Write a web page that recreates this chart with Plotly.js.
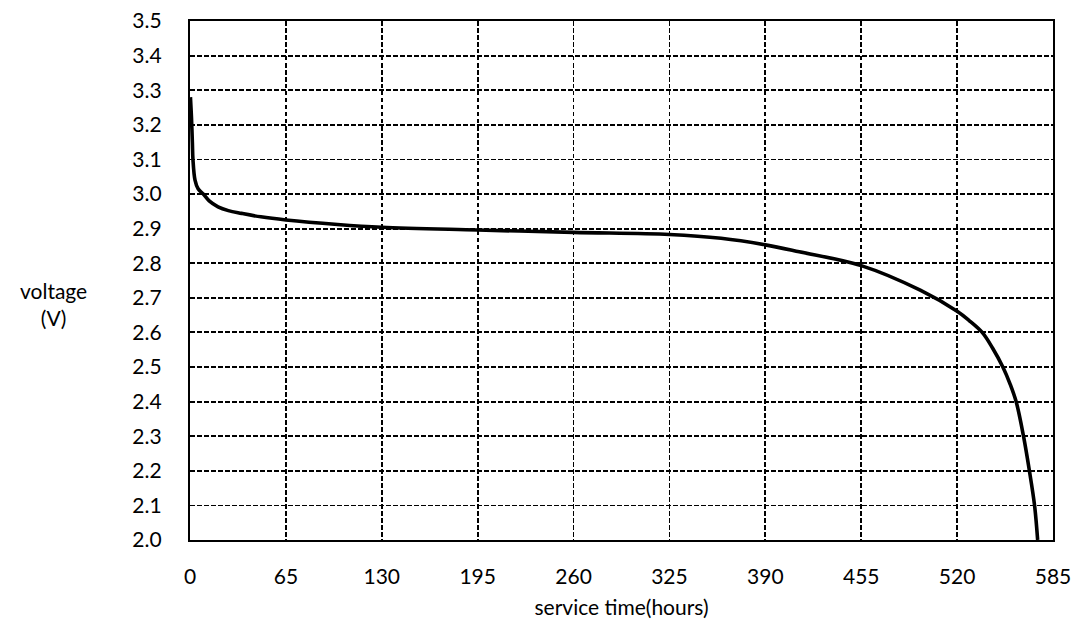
<!DOCTYPE html>
<html>
<head>
<meta charset="utf-8">
<script src="https://cdn.plot.ly/plotly-3.0.1.min.js"></script>
<style>html,body{margin:0;padding:0;background:#fff;}#chart{width:1081px;height:634px;}</style>
</head>
<body>
<div id="chart"></div>
<script>
const serviceHours = [0.3, 1, 1.6, 2, 3.4, 5.5, 9, 13, 19, 26, 35, 48, 65, 100, 130, 195, 260, 325, 360, 390, 413, 455, 495, 520, 528, 537, 544, 551, 556, 560, 565, 569, 572.5, 574.6];
const voltage = [3.28, 3.22, 3.15, 3.1, 3.04, 3.015, 3.0, 2.98, 2.963, 2.952, 2.944, 2.934, 2.925, 2.912, 2.904, 2.896, 2.889, 2.883, 2.872, 2.853, 2.833, 2.793, 2.722, 2.661, 2.635, 2.6, 2.555, 2.5, 2.45, 2.4, 2.3, 2.2, 2.1, 2.0];
const xTicks = [0, 65, 130, 195, 260, 325, 390, 455, 520, 585];
const yTicks = [2.0, 2.1, 2.2, 2.3, 2.4, 2.5, 2.6, 2.7, 2.8, 2.9, 3.0, 3.1, 3.2, 3.3, 3.4, 3.5];

const font = {family: 'Lato, "Open Sans", sans-serif', size: 21, color: '#000'};

const trace = {
  x: serviceHours, y: voltage, type: 'scatter', mode: 'lines',
  line: {color: '#000', width: 3.6, shape: 'spline', smoothing: 1.0},
  hoverinfo: 'skip'
};

const layout = {
  width: 1081, height: 634,
  margin: {l: 190, r: 28, t: 21, b: 94},
  paper_bgcolor: '#fff', plot_bgcolor: '#fff',
  font: font,
  showlegend: false,
  xaxis: {
    range: [0, 585], tickvals: xTicks, ticktext: xTicks.map(String),
    showgrid: true, gridcolor: '#000', gridwidth: 1.8, griddash: '4.5px,2.5px',
    showline: true, linecolor: '#000', linewidth: 2.2, mirror: true,
    ticks: '', ticklabelstandoff: 17, zeroline: false,
    title: {text: 'service time(hours)', font: font, standoff: 13}
  },
  yaxis: {
    range: [2.0, 3.5], tickvals: yTicks, ticktext: yTicks.map(v => v.toFixed(1)),
    showgrid: true, gridcolor: '#000', gridwidth: 1.8, griddash: '4.5px,2.5px',
    showline: true, linecolor: '#000', linewidth: 2.2, mirror: true,
    ticks: '', ticklabelstandoff: 22, zeroline: false
  },
  annotations: [{
    text: 'voltage<br>(V)', xref: 'paper', yref: 'paper',
    x: -0.158, y: 0.455, showarrow: false, font: font, align: 'center',
    xanchor: 'center', yanchor: 'middle'
  }]
};

Plotly.newPlot('chart', [trace], layout, {staticPlot: true});
</script>
</body>
</html>
